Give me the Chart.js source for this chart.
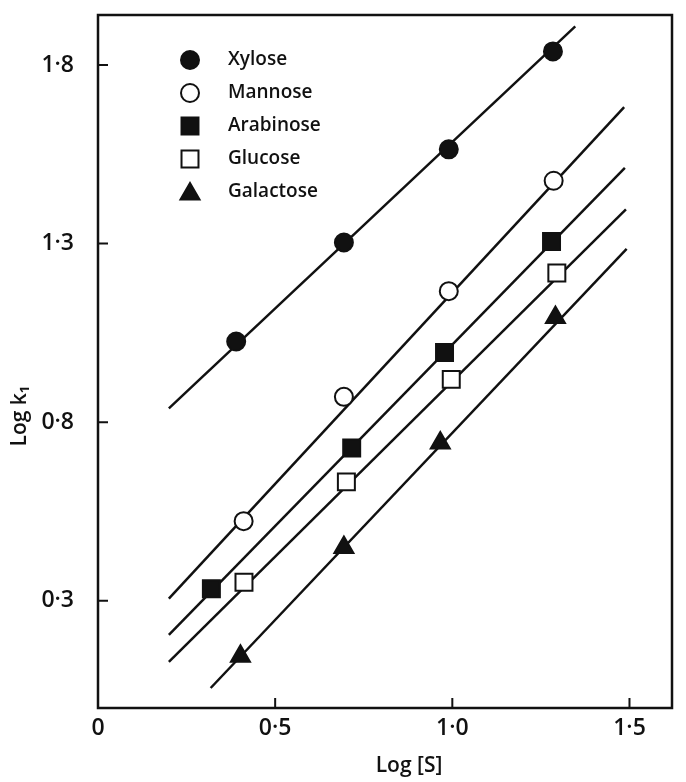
<!DOCTYPE html>
<html>
<head>
<meta charset="utf-8">
<script src="https://cdn.jsdelivr.net/npm/chart.js@4.4.0/dist/chart.umd.min.js"></script>
<style>
  html, body { margin: 0; padding: 0; background: #fff; }
</style>
</head>
<body>
<canvas id="plot" width="686" height="782"></canvas>
<script>
// Sugar names (legend order)
const sugars = ['Xylose', 'Mannose', 'Arabinose', 'Glucose', 'Galactose'];

// Measured points: Log [S] vs Log k1
const xyloseX = [0.39, 0.694, 0.99, 1.284];
const xyloseY = [1.026, 1.303, 1.564, 1.838];
const mannoseX = [0.411, 0.694, 0.99, 1.286];
const mannoseY = [0.523, 0.871, 1.167, 1.476];
const arabinoseX = [0.32, 0.716, 0.978, 1.28];
const arabinoseY = [0.334, 0.728, 0.995, 1.306];
const glucoseX = [0.412, 0.701, 0.997, 1.295];
const glucoseY = [0.352, 0.633, 0.92, 1.218];
const galactoseX = [0.402, 0.694, 0.966, 1.291];
const galactoseY = [0.145, 0.449, 0.742, 1.093];

// Fitted lines, end points
const xyloseFitX = [0.20, 1.347];
const xyloseFitY = [0.839, 1.908];
const mannoseFitX = [0.20, 1.485];
const mannoseFitY = [0.306, 1.682];
const arabinoseFitX = [0.20, 1.487];
const arabinoseFitY = [0.205, 1.512];
const glucoseFitX = [0.20, 1.49];
const glucoseFitY = [0.129, 1.396];
const galactoseFitX = [0.318, 1.492];
const galactoseFitY = [0.056, 1.285];

// Axis ticks
const xTicks = [0, 0.5, 1.0, 1.5];
const yTicks = [0.3, 0.8, 1.3, 1.8];

const ink = '#111';
const FONT = '"Open Sans", "DejaVu Sans", sans-serif';

function pts(xs, ys) {
    return xs.map((x, i) => ({ x: x, y: ys[i] }));
}
function dotLabel(v) {
    return v === 0 ? '0' : v.toFixed(1).replace('.', '\u00b7');
}

// marker styles: [pointStyle, filled, radius]
const markers = [
    ['circle', true, 9],
    ['circle', false, 9],
    ['rect', true, 12],
    ['rect', false, 12],
    ['triangle', true, 11]
];

const seriesX = [xyloseX, mannoseX, arabinoseX, glucoseX, galactoseX];
const seriesY = [xyloseY, mannoseY, arabinoseY, glucoseY, galactoseY];
const fitX = [xyloseFitX, mannoseFitX, arabinoseFitX, glucoseFitX, galactoseFitX];
const fitY = [xyloseFitY, mannoseFitY, arabinoseFitY, glucoseFitY, galactoseFitY];

const datasets = [];
sugars.forEach((name, i) => {
    const m = markers[i];
    datasets.push({
        label: name,
        data: pts(seriesX[i], seriesY[i]),
        showLine: false,
        pointStyle: m[0],
        pointRadius: m[2],
        pointHoverRadius: m[2],
        pointBackgroundColor: m[1] ? ink : '#fff',
        pointBorderColor: ink,
        pointBorderWidth: 2,
        order: 0
    });
    datasets.push({
        label: name + ' fit',
        data: pts(fitX[i], fitY[i]),
        showLine: true,
        borderColor: ink,
        borderWidth: 2.5,
        pointRadius: 0,
        fill: false,
        order: 1
    });
});

// frame, inward ticks, legend and axis titles
const decorations = {
    id: 'decorations',
    afterDraw(chart) {
        const { ctx, chartArea: a, scales: { x, y } } = chart;
        ctx.save();
        ctx.strokeStyle = ink;
        ctx.lineWidth = 2.5;
        ctx.strokeRect(a.left, a.top, a.right - a.left, a.bottom - a.top);

        ctx.lineWidth = 2;
        ctx.beginPath();
        xTicks.forEach(v => {
            const px = x.getPixelForValue(v);
            ctx.moveTo(px, a.bottom);
            ctx.lineTo(px, a.bottom - 10);
        });
        yTicks.forEach(v => {
            const py = y.getPixelForValue(v);
            ctx.moveTo(a.left, py);
            ctx.lineTo(a.left + 10, py);
        });
        ctx.stroke();

        // legend
        ctx.font = '600 19px ' + FONT;
        ctx.textBaseline = 'middle';
        ctx.textAlign = 'left';
        sugars.forEach((name, i) => {
            const m = markers[i];
            const ly = 60 + i * 33;
            ctx.fillStyle = m[1] ? ink : '#fff';
            ctx.strokeStyle = ink;
            ctx.lineWidth = 2;
            Chart.helpers.drawPoint(ctx, { pointStyle: m[0], radius: m[2], rotation: 0, borderWidth: 2 }, 190, ly + (m[0] === 'triangle' ? 2 : 0));
            ctx.fillStyle = ink;
            ctx.fillText(name, 228, ly);
        });

        // axis titles
        ctx.font = '600 21px ' + FONT;
        ctx.textAlign = 'center';
        ctx.fillText('Log [S]', 409, 766);

        ctx.translate(20, 416);
        ctx.rotate(-Math.PI / 2);
        ctx.fillText('Log k\u2081', 0, 0);
        ctx.restore();
    }
};

new Chart(document.getElementById('plot').getContext('2d'), {
    type: 'scatter',
    data: { datasets: datasets },
    options: {
        responsive: false,
        animation: false,
        devicePixelRatio: 1,
        layout: { padding: { top: 15, right: 4, left: 0, bottom: 0 } },
        plugins: {
            legend: { display: false },
            tooltip: { enabled: false }
        },
        scales: {
            x: {
                type: 'linear',
                min: 0,
                max: 1.62,
                afterBuildTicks: s => { s.ticks = xTicks.map(v => ({ value: v })); },
                afterFit: s => { s.height = 74; s.paddingLeft = 0; s.paddingRight = 0; },
                grid: { display: false, drawTicks: false },
                border: { display: false },
                ticks: {
                    padding: 7,
                    color: ink,
                    font: { family: FONT, size: 23, weight: '600' },
                    callback: v => dotLabel(v)
                }
            },
            y: {
                type: 'linear',
                min: 0,
                max: 1.94,
                afterBuildTicks: s => { s.ticks = yTicks.map(v => ({ value: v })); },
                afterFit: s => { s.width = 98; s.paddingTop = 0; s.paddingBottom = 0; },
                grid: { display: false, drawTicks: false },
                border: { display: false },
                ticks: {
                    padding: 24,
                    color: ink,
                    font: { family: FONT, size: 23, weight: '600' },
                    callback: v => dotLabel(v)
                }
            }
        }
    },
    plugins: [decorations]
});
</script>
</body>
</html>
